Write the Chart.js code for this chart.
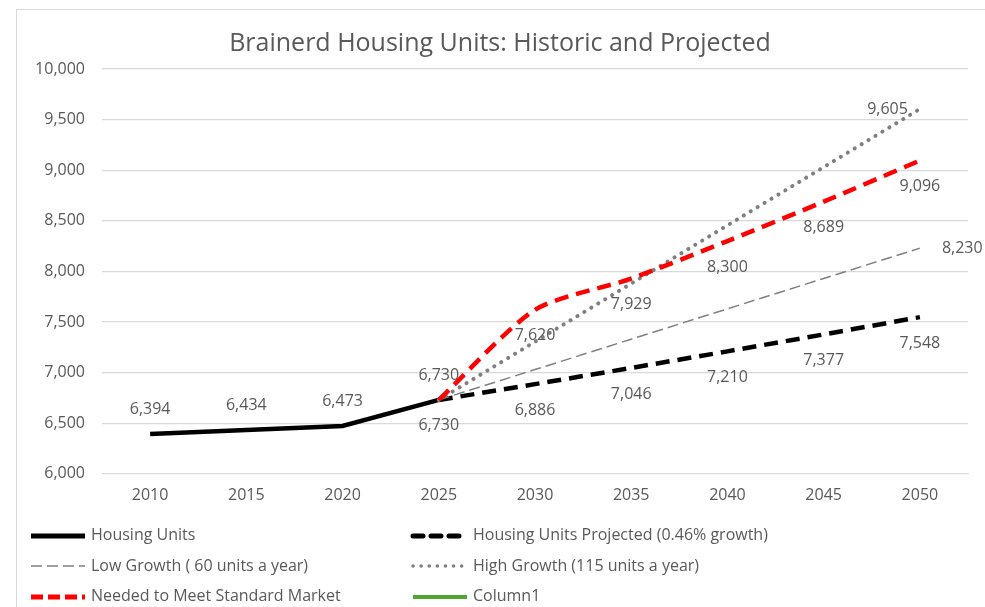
<!DOCTYPE html>
<html>
<head>
<meta charset="utf-8">
<script src="https://cdn.jsdelivr.net/npm/chart.js@4"></script>
<style>
  html, body { margin: 0; padding: 0; background: #fff; }
  #wrap { position: relative; width: 985px; height: 607px; overflow: hidden; background: #fff; }
  #frame { position: absolute; left: 16px; top: 9px; width: 1100px; height: 800px; border: 1px solid #d9d9d9; box-sizing: border-box; }
  #chart { position: absolute; left: 0; top: 0; }
  #legend { position: absolute; left: 0; top: 522px; width: 985px; font-family: "Open Sans", sans-serif; font-size: 16px; color: #595959; }
  .item { position: absolute; height: 24px; line-height: 24px; white-space: nowrap; }
  .item svg { vertical-align: middle; margin-right: 5px; }
</style>
</head>
<body>
<div id="wrap">
  <div id="frame"></div>
  <canvas id="chart" width="985" height="607"></canvas>
  <div id="legend"></div>
</div>
<script>
const years = ['2010', '2015', '2020', '2025', '2030', '2035', '2040', '2045', '2050'];
const housingUnits = [6394, 6434, 6473, 6730, null, null, null, null, null];
const projected = [null, null, null, 6730, 6886, 7046, 7210, 7377, 7548];
const lowGrowth = [null, null, null, 6730, 7030, 7330, 7630, 7930, 8230];
const highGrowth = [null, null, null, 6730, 7305, 7880, 8455, 9030, 9605];
const neededMarket = [null, null, null, 6730, 7620, 7929, 8300, 8689, 9096];
const column1 = [null, null, null, null, null, null, null, null, null];
const yTicks = [6000, 6500, 7000, 7500, 8000, 8500, 9000, 9500, 10000];

const grey = '#595959';
const fontFamily = '"Open Sans", sans-serif';

// draws the value labels next to the points
const valueLabels = {
    id: 'valueLabels',
    afterDatasetsDraw(chart) {
        const ctx = chart.ctx;
        ctx.save();
        ctx.font = '16px ' + fontFamily;
        ctx.fillStyle = grey;
        ctx.textBaseline = 'middle';
        chart.data.datasets.forEach((ds, i) => {
            if (!ds.labelPos) return;
            const meta = chart.getDatasetMeta(i);
            let idx = ds.data.map((v, j) => j).filter(j => ds.data[j] != null);
            if (ds.labelPoints === 'last') idx = idx.slice(-1);
            if (ds.labelPoints === 'skipFirst') idx = idx.slice(1);
            idx.forEach(j => {
                const pt = meta.data[j];
                const text = ds.data[j].toLocaleString('en-US');
                let x = pt.x, y = pt.y;
                ctx.textAlign = 'center';
                if (ds.labelPos === 'above') y -= 24;
                if (ds.labelPos === 'below') y += 26;
                if (ds.labelPos === 'right') { ctx.textAlign = 'left'; x += 22; }
                if (ds.labelPos === 'left') { ctx.textAlign = 'right'; x -= 12; }
                ctx.fillText(text, x, y);
            });
        });
        ctx.restore();
    }
};

const datasets = [
    { label: 'Housing Units', data: housingUnits, borderColor: '#000000', borderWidth: 4.5,
      labelPos: 'above', labelPoints: 'all', order: 5 },
    { label: 'Housing Units Projected (0.46% growth)', data: projected, borderColor: '#000000', borderWidth: 4.5,
      borderDash: [14, 8], labelPos: 'below', labelPoints: 'all', order: 4 },
    { label: 'Low Growth ( 60 units a year)', data: lowGrowth, borderColor: '#808080', borderWidth: 1.5,
      borderDash: [11, 5], labelPos: 'right', labelPoints: 'last', order: 3 },
    { label: 'High Growth (115 units a year)', data: highGrowth, borderColor: '#7f7f7f', borderWidth: 4,
      borderDash: [0.1, 8], borderCapStyle: 'round', labelPos: 'left', labelPoints: 'last', order: 2 },
    { label: 'Needed to Meet Standard Market', data: neededMarket, borderColor: '#ff0000', borderWidth: 4.5,
      borderDash: [14, 8], tension: 0.25, labelPos: 'below', labelPoints: 'skipFirst', order: 1 },
    { label: 'Column1', data: column1, borderColor: '#4ea72e', borderWidth: 4, order: 6 }
];

new Chart(document.getElementById('chart'), {
    type: 'line',
    data: { labels: years, datasets },
    options: {
        responsive: false,
        animation: false,
        devicePixelRatio: 1,
        layout: { padding: { left: 32, right: 17, top: 0, bottom: 90 } },
        elements: { point: { radius: 0 }, line: { borderCapStyle: 'butt', fill: false } },
        plugins: {
            legend: { display: false },
            tooltip: { enabled: false },
            title: {
                display: true,
                text: 'Brainerd Housing Units: Historic and Projected',
                color: grey,
                font: { family: fontFamily, size: 25, weight: 'normal' },
                padding: { top: 29, bottom: 10 }
            }
        },
        scales: {
            x: {
                offset: true,
                grid: { display: false, drawTicks: false },
                border: { color: '#d9d9d9' },
                ticks: { color: grey, font: { family: fontFamily, size: 16 }, padding: 12 }
            },
            y: {
                min: 6000,
                max: 10000,
                afterFit(scale) { scale.width = 70; },
                afterBuildTicks(scale) { scale.ticks = yTicks.map(v => ({ value: v })); },
                grid: { color: '#d9d9d9', drawTicks: false, lineWidth: 1.3 },
                border: { display: false },
                ticks: {
                    color: grey, font: { family: fontFamily, size: 16 }, padding: 17,
                    callback: v => v.toLocaleString('en-US')
                }
            }
        }
    },
    plugins: [valueLabels]
});

// html legend in two columns
const legendItems = [
    { name: 'Housing Units', x: 28, row: 0, color: '#000', width: 5, dash: '' },
    { name: 'Housing Units Projected (0.46% growth)', x: 410, row: 0, color: '#000', width: 5, dash: '10 8', cap: 'round' },
    { name: 'Low Growth ( 60 units a year)', x: 28, row: 1, color: '#808080', width: 1.5, dash: '11 5' },
    { name: 'High Growth (115 units a year)', x: 410, row: 1, color: '#7f7f7f', width: 3.5, dash: '0.1 8', cap: 'round' },
    { name: 'Needed to Meet Standard Market', x: 28, row: 2, color: '#ff0000', width: 5, dash: '12 5' },
    { name: 'Column1', x: 410, row: 2, color: '#4ea72e', width: 4, dash: '' }
];
const legend = document.getElementById('legend');
legendItems.forEach(it => {
    const div = document.createElement('div');
    div.className = 'item';
    div.style.left = it.x + 'px';
    div.style.top = (it.row * 30.5) + 'px';
    div.innerHTML = '<svg width="58" height="10"><line x1="3" y1="5" x2="57" y2="5" stroke="' + it.color +
        '" stroke-width="' + it.width + '" stroke-dasharray="' + it.dash + '" stroke-linecap="' + (it.cap || 'butt') +
        '"/></svg>' + it.name;
    legend.appendChild(div);
});
</script>
</body>
</html>
